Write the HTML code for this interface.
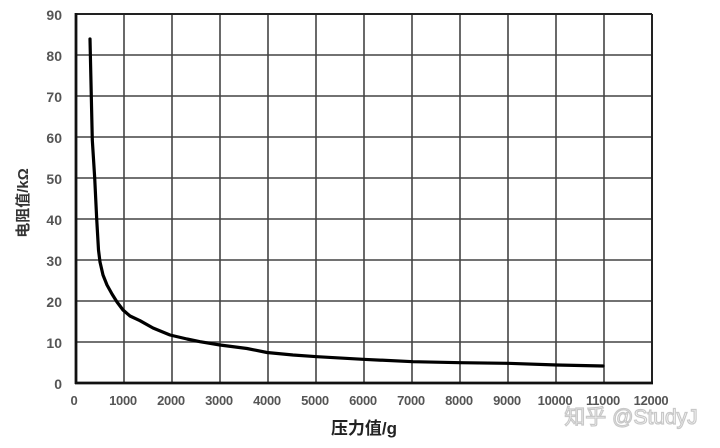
<!DOCTYPE html>
<html><head><meta charset="utf-8"><style>
html,body{margin:0;padding:0;background:#fff;}
svg{display:block;}
</style></head><body>
<svg width="720" height="448" viewBox="0 0 720 448" xmlns="http://www.w3.org/2000/svg">
<rect width="720" height="448" fill="#fff"/>
<g stroke="#444" stroke-width="1.6" fill="none">
<line x1="76" y1="55" x2="652" y2="55"/>
<line x1="76" y1="96" x2="652" y2="96"/>
<line x1="76" y1="137" x2="652" y2="137"/>
<line x1="76" y1="178" x2="652" y2="178"/>
<line x1="76" y1="219" x2="652" y2="219"/>
<line x1="76" y1="260" x2="652" y2="260"/>
<line x1="76" y1="301" x2="652" y2="301"/>
<line x1="76" y1="342" x2="652" y2="342"/>
<line x1="124" y1="14" x2="124" y2="383"/>
<line x1="172" y1="14" x2="172" y2="383"/>
<line x1="220" y1="14" x2="220" y2="383"/>
<line x1="268" y1="14" x2="268" y2="383"/>
<line x1="316" y1="14" x2="316" y2="383"/>
<line x1="364" y1="14" x2="364" y2="383"/>
<line x1="412" y1="14" x2="412" y2="383"/>
<line x1="460" y1="14" x2="460" y2="383"/>
<line x1="508" y1="14" x2="508" y2="383"/>
<line x1="556" y1="14" x2="556" y2="383"/>
<line x1="604" y1="14" x2="604" y2="383"/>
</g>
<g stroke="#222" stroke-width="2" fill="none">
<line x1="76" y1="14" x2="652" y2="14"/>
<line x1="652" y1="14" x2="652" y2="383"/>
</g>
<g stroke="#111" stroke-width="2.8" fill="none">
<line x1="76" y1="13" x2="76" y2="384"/>
<line x1="75" y1="383" x2="653" y2="383"/>
</g>
<polyline fill="none" stroke="#000" stroke-width="3.2" stroke-linejoin="round" stroke-linecap="round"
points="90,39 92.3,140 94.7,178 96.7,219 98.5,250 100,262 103,275 107,285 112,294 117,302 123,310 130,316 140,320.7 153,328 170,335 187,339 200,341.7 220,345 247,348.5 267,352.5 293,355 317,356.7 363,359.3 413,361.7 460,362.7 507,363.3 557,365 603,366"/>
<g font-family="Liberation Sans, sans-serif" font-size="14" font-weight="bold" fill="#555" text-anchor="end">
<text x="62" y="20">90</text>
<text x="62" y="61">80</text>
<text x="62" y="102">70</text>
<text x="62" y="143">60</text>
<text x="62" y="184">50</text>
<text x="62" y="225">40</text>
<text x="62" y="266">30</text>
<text x="62" y="307">20</text>
<text x="62" y="348">10</text>
<text x="62" y="389">0</text>
</g>
<g font-family="Liberation Sans, sans-serif" font-size="13" font-weight="bold" fill="#555" text-anchor="middle" letter-spacing="-0.3">
<text x="74" y="405">0</text>
<text x="123" y="405">1000</text>
<text x="171" y="405">2000</text>
<text x="219" y="405">3000</text>
<text x="267" y="405">4000</text>
<text x="315" y="405">5000</text>
<text x="363" y="405">6000</text>
<text x="411" y="405">7000</text>
<text x="459" y="405">8000</text>
<text x="507" y="405">9000</text>
<text x="555" y="405">10000</text>
<text x="603" y="405">11000</text>
<text x="651" y="405">12000</text>
</g>
<text x="364" y="434" font-family="Liberation Sans, Noto Sans CJK SC, sans-serif" font-size="17" font-weight="bold" fill="#222" text-anchor="middle">压力值/g</text>
<text transform="translate(28,203) rotate(-90)" font-family="Liberation Sans, Noto Sans CJK SC, sans-serif" font-size="15" font-weight="bold" fill="#333" text-anchor="middle">电阻值/kΩ</text>
<text x="631" y="424" font-family="Liberation Sans, Noto Sans CJK SC, sans-serif" font-size="21" fill="#fff" stroke="#c8c8c8" stroke-width="1.2" text-anchor="middle">知乎 @StudyJ</text>
</svg>
</body></html>
